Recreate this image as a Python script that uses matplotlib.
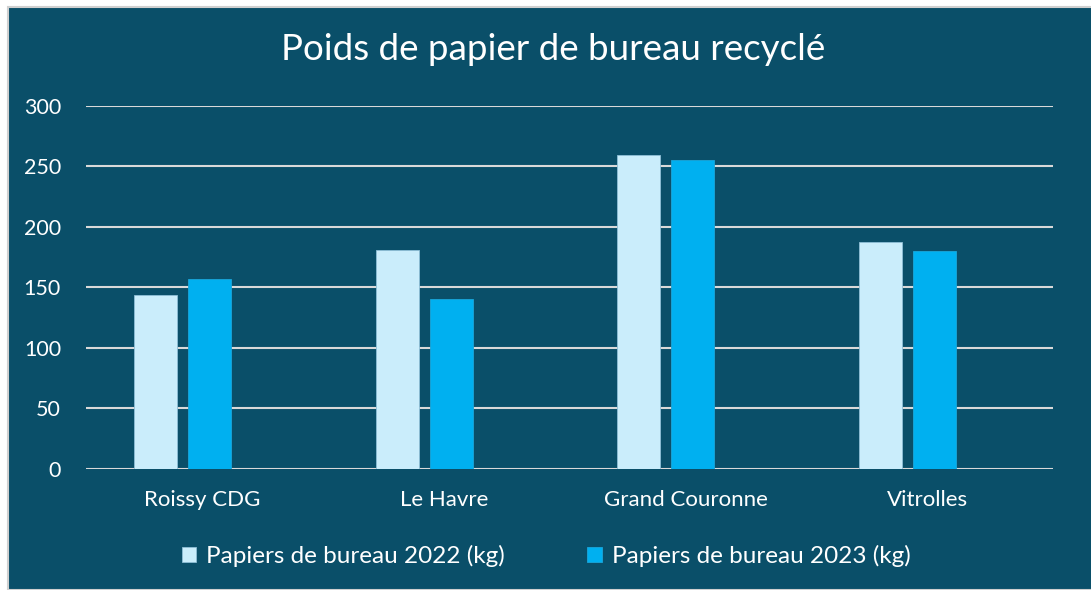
import numpy as np
import matplotlib.pyplot as plt
from matplotlib.patches import Rectangle

# Données
sites = ["Roissy CDG", "Le Havre", "Grand Couronne", "Vitrolles"]
papier_2022 = [143.5, 180.8, 259.7, 187.9]
papier_2023 = [156.8, 140.2, 255.5, 180.2]
label_2022 = "Papiers de bureau 2022 (kg)"
label_2023 = "Papiers de bureau 2023 (kg)"
yticks = [0, 50, 100, 150, 200, 250, 300]

bg = "#0A4F69"
c2022 = "#CAEDFB"
c2023 = "#00B0F0"
font = "Lato"

plt.rcParams["font.family"] = [font, "DejaVu Sans"]

W, H = 1091, 590
fig = plt.figure(figsize=(W / 100, H / 100), dpi=100)
fig.patch.set_facecolor("white")

# fond du graphique avec bord gris
fig.patches.append(Rectangle((7.5 / W, 0), 1, 1 - 6.5 / H, transform=fig.transFigure,
                             facecolor=bg, edgecolor="#D0D0D0", linewidth=1.5, zorder=-10))

ax = fig.add_axes([86 / W, 1 - 468.7 / H, (1053 - 86) / W, (468.7 - 106) / H])
ax.patch.set_alpha(0)

x = np.arange(len(sites))
bw = 0.178
step = 0.223
# la 2e série est centrée sur la catégorie (une 3e série vide occupe la droite)
ax.bar(x - step + 0.01, papier_2022, bw, color=c2022, edgecolor="#8FBFD6", linewidth=0.6,
       label=label_2022, zorder=3)
ax.bar(x + 0.01, papier_2023, bw, color=c2023, edgecolor="#1AA6DA", linewidth=0.6,
       label=label_2023, zorder=3)

ax.set_ylim(0, 300)
ax.set_xlim(-0.5, len(sites) - 0.5)
ax.set_yticks(yticks)
ax.set_xticks(x - 0.02)
ax.set_xticklabels(sites)
ax.yaxis.grid(True, color="#D9D9D9", linewidth=1.5, zorder=1)
ax.set_axisbelow(True)
for s in ax.spines.values():
    s.set_visible(False)
ax.tick_params(axis="both", length=0, colors="white")
ax.tick_params(axis="y", labelsize=15.5, pad=18)
ax.tick_params(axis="x", labelsize=16, pad=15)

fig.text(553 / W, 1 - 50 / H, "Poids de papier de bureau recyclé", color="white",
         fontsize=26.5, ha="center", va="center")

leg = fig.legend(loc="center", bbox_to_anchor=(546 / W, 1 - 556 / H), ncol=2,
                 frameon=False, fontsize=17.5, labelcolor="white",
                 handlelength=0.6, handleheight=0.6, handletextpad=0.4,
                 columnspacing=3.4)

fig.savefig("out.png", dpi=100, facecolor=fig.get_facecolor())
